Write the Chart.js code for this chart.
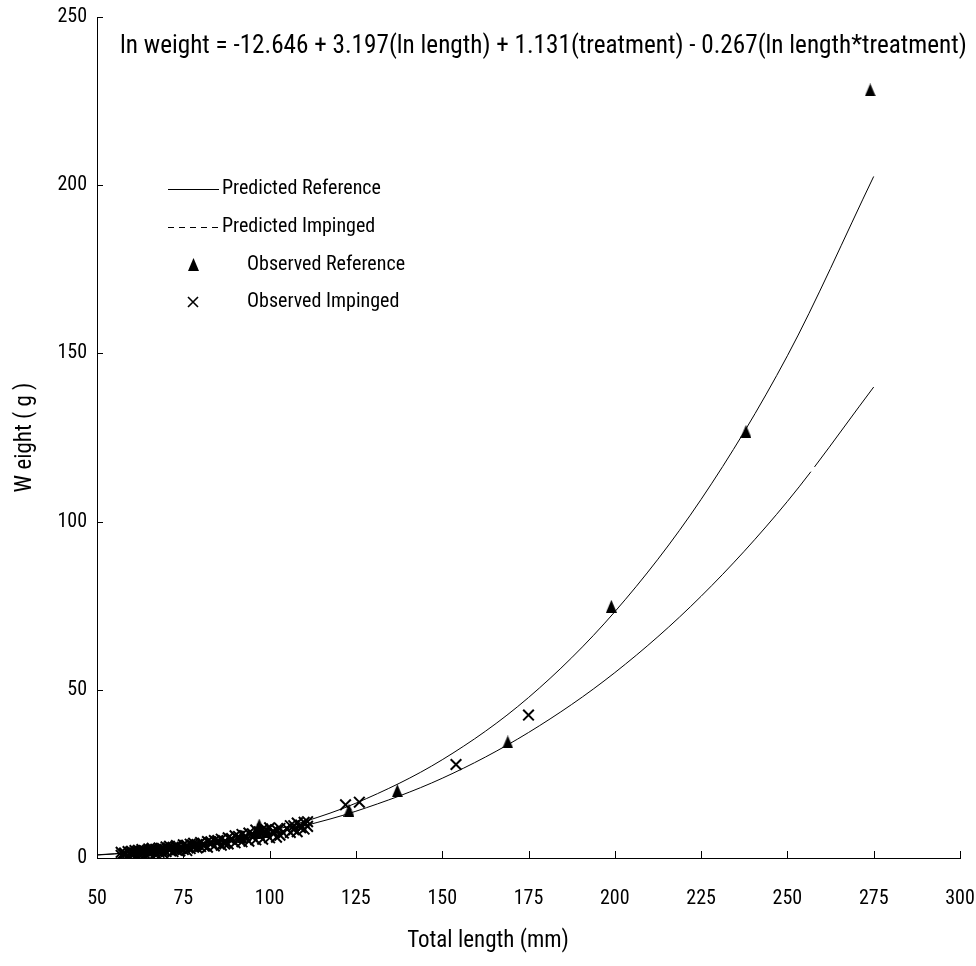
<!DOCTYPE html>
<html>
<head>
<meta charset="utf-8">
<style>
  html, body { margin: 0; padding: 0; background: #fff; }
  #wrap { width: 976px; height: 966px; }
</style>
<script src="https://cdn.jsdelivr.net/npm/chart.js@4/dist/chart.umd.min.js"></script>
</head>
<body>
<div id="wrap"><canvas id="lwChart" width="976" height="966"></canvas></div>
<script>
// values
const xTicks = [50, 75, 100, 125, 150, 175, 200, 225, 250, 275, 300];
const yTicks = [0, 50, 100, 150, 200, 250];

// predicted curves (mm, g)
const curveLength = [50, 60, 70, 80, 90, 100, 110, 125, 150, 175, 200, 225, 250, 275];
const predReference = [0.87, 1.56, 2.55, 3.91, 5.70, 7.98, 10.8, 16.3, 29.2, 47.7, 73.2, 106.6, 149.3, 202.6];
const predImpinged = [0.95, 1.62, 2.54, 3.76, 5.31, 7.23, 9.56, 13.9, 23.7, 37.3, 55.1, 77.8, 106.0, 140.0];

// observed reference fish
const refLength = [92, 96, 97, 99, 123, 137, 169, 199, 238, 274];
const refWeight = [6.5, 7.5, 9.8, 7.8, 14.2, 20.0, 34.5, 74.8, 126.8, 228.3];

// observed impinged fish
const impLength = [
  57, 57, 58, 59, 59, 60, 60, 61, 61, 62,
  62, 63, 63, 64, 64, 65, 65, 66, 66, 67,
  67, 68, 68, 69, 69, 70, 70, 71, 71, 72,
  72, 73, 73, 74, 74, 75, 75, 76, 76, 77,
  77, 78, 78, 79, 80, 80, 81, 82, 82, 83,
  84, 84, 85, 86, 86, 87, 88, 88, 89, 90,
  90, 91, 92, 92, 93, 94, 94, 95, 96, 96,
  97, 98, 98, 99, 100, 100, 101, 102, 103, 103,
  106, 106, 107, 108, 108, 109, 110, 110, 111, 111,
  58, 60, 62, 63, 65, 66, 68, 69, 71, 73,
  74, 76, 78, 79, 81, 83, 85, 87, 89, 91,
  93, 95, 97, 99, 101, 102, 104, 105, 107, 109,
  122, 126, 154, 175];
const impWeight = [
  0.8, 1.7, 1.2, 0.7, 1.9, 1.0, 2.0, 1.4, 2.2, 1.1,
  2.3, 1.4, 2.5, 1.1, 2.1, 2.7, 1.5, 1.9, 2.9, 1.4,
  2.6, 1.7, 3.0, 2.2, 1.5, 3.3, 1.9, 2.7, 3.5, 1.9,
  3.2, 2.4, 3.7, 2.1, 3.0, 3.9, 2.5, 3.4, 2.2, 4.1,
  2.8, 3.6, 4.4, 3.0, 4.6, 3.4, 4.0, 4.9, 3.2, 4.3,
  5.2, 3.6, 4.6, 5.6, 3.8, 4.9, 6.0, 4.2, 5.4, 6.6,
  4.5, 5.6, 7.0, 4.8, 6.0, 7.4, 5.0, 6.3, 8.3, 5.4,
  6.8, 8.6, 5.6, 7.2, 9.0, 6.0, 7.6, 8.4, 6.8, 8.8,
  7.6, 9.6, 8.4, 10.4, 7.8, 9.0, 10.6, 8.6, 9.4, 10.8,
  1.5, 1.6, 1.7, 1.9, 2.1, 2.4, 2.3, 2.8, 2.4, 3.2,
  2.9, 3.8, 3.2, 4.0, 3.6, 4.8, 5.2, 4.2, 5.8, 6.4,
  6.6, 7.2, 7.8, 8.4, 8.0, 6.2, 7.4, 8.8, 9.6, 9.8,
  15.8, 16.6, 27.8, 42.5];

const equation = 'ln weight = -12.646 + 3.197(ln length) + 1.131(treatment) - 0.267(ln length*treatment)';
const legendItems = ['Predicted Reference', 'Predicted Impinged', 'Observed Reference', 'Observed Impinged'];
const xTitle = 'Total length (mm)';
const yTitle = 'W eight ( g )';

// Roboto condensed stands in for the narrow font of the original
const FAMILY = 'Roboto';
const NARROW = 'condensed';

function pairs(xs, ys) {
  return xs.map((x, i) => ({ x: x, y: ys[i] }));
}

// tall filled triangle marker
function makeTriangle(w, h) {
  const c = document.createElement('canvas');
  c.width = w;
  c.height = h;
  const g = c.getContext('2d');
  g.fillStyle = '#000';
  g.beginPath();
  g.moveTo(w / 2, 0);
  g.lineTo(w, h);
  g.lineTo(0, h);
  g.closePath();
  g.fill();
  return c;
}
const triMark = makeTriangle(11, 13);

// inside tick marks, equation, x title and legend
const extras = {
  id: 'extras',
  afterDraw(chart) {
    const ctx = chart.ctx;
    const xs = chart.scales.x, ys = chart.scales.y;
    const area = chart.chartArea;
    ctx.save();
    ctx.strokeStyle = '#000';
    ctx.lineWidth = 1;
    ctx.beginPath();
    xTicks.forEach(v => {
      const px = Math.round(xs.getPixelForValue(v)) + 0.5;
      ctx.moveTo(px, area.bottom);
      ctx.lineTo(px, area.bottom - 7);
    });
    yTicks.forEach(v => {
      const py = Math.round(ys.getPixelForValue(v)) + 0.5;
      ctx.moveTo(area.left, py);
      ctx.lineTo(area.left + 6, py);
    });
    ctx.stroke();

    ctx.fillStyle = '#000';
    ctx.textBaseline = 'middle';
    ctx.textAlign = 'left';
    ctx.font = NARROW + ' 20px ' + FAMILY;
    const eqSize = 20 * 846 / ctx.measureText(equation).width;
    ctx.font = NARROW + ' ' + eqSize.toFixed(1) + 'px ' + FAMILY;
    ctx.fillText(equation, 120, 47);

    // x axis title sits centred on the page, not on the axis
    ctx.textAlign = 'center';
    ctx.font = NARROW + ' 23px ' + FAMILY;
    ctx.fillText(xTitle, chart.width / 2, 941);
    ctx.textAlign = 'left';

    // legend
    ctx.font = NARROW + ' 20px ' + FAMILY;
    const rows = [189, 227, 265, 302];
    ctx.beginPath();
    ctx.moveTo(168, rows[0] + 0.5);
    ctx.lineTo(219, rows[0] + 0.5);
    ctx.stroke();
    ctx.setLineDash([6, 5]);
    ctx.beginPath();
    ctx.moveTo(168, rows[1] + 0.5);
    ctx.lineTo(219, rows[1] + 0.5);
    ctx.stroke();
    ctx.setLineDash([]);
    ctx.drawImage(triMark, 188, rows[2] - 7);
    ctx.lineWidth = 1.6;
    ctx.beginPath();
    ctx.moveTo(188, rows[3] - 5);
    ctx.lineTo(198, rows[3] + 5);
    ctx.moveTo(198, rows[3] - 5);
    ctx.lineTo(188, rows[3] + 5);
    ctx.stroke();
    ctx.fillText(legendItems[0], 222, rows[0]);
    ctx.fillText(legendItems[1], 222, rows[1]);
    ctx.fillText(legendItems[2], 247, rows[2]);
    ctx.fillText(legendItems[3], 247, rows[3]);
    ctx.restore();
  }
};

const ctx = document.getElementById('lwChart').getContext('2d');
const lwChart = new Chart(ctx, {
  type: 'scatter',
  data: {
    datasets: [
      {
        label: 'Observed Reference',
        data: pairs(refLength, refWeight),
        pointStyle: triMark,
        pointRadius: 7,
        backgroundColor: '#000',
        borderColor: '#000',
        order: 1
      },
      {
        label: 'Observed Impinged',
        data: pairs(impLength, impWeight),
        pointStyle: 'crossRot',
        pointRadius: 7.5,
        borderColor: '#000',
        borderWidth: 2,
        order: 1
      },
      {
        label: 'Predicted Reference',
        data: pairs(curveLength, predReference),
        showLine: true,
        pointRadius: 0,
        borderColor: '#000',
        borderWidth: 1,
        cubicInterpolationMode: 'monotone',
        order: 2
      },
      {
        label: 'Predicted Impinged',
        data: pairs(curveLength, predImpinged),
        showLine: true,
        pointRadius: 0,
        borderColor: '#000',
        borderWidth: 1,
        borderDash: [840, 6],
        cubicInterpolationMode: 'monotone',
        order: 2
      }
    ]
  },
  options: {
    responsive: false,
    animation: false,
    layout: { padding: { top: 17, right: 16, left: 0, bottom: 0 } },
    plugins: {
      legend: { display: false },
      tooltip: { enabled: false }
    },
    scales: {
      x: {
        type: 'linear',
        min: 50,
        max: 300,
        afterBuildTicks: s => { s.ticks = xTicks.map(v => ({ value: v })); },
        afterFit: s => { s.height = 108; s.paddingLeft = 0; s.paddingRight = 0; },
        grid: { display: false, drawTicks: false },
        border: { display: true, color: '#000', width: 1 },
        ticks: { color: '#000', padding: 29, font: { family: FAMILY, weight: NARROW, size: 20 } },
        title: { display: false }
      },
      y: {
        min: 0,
        max: 250,
        afterBuildTicks: s => { s.ticks = yTicks.map(v => ({ value: v })); },
        afterFit: s => { s.width = 97; s.paddingTop = 0; s.paddingBottom = 0; },
        grid: { display: false, drawTicks: false },
        border: { display: true, color: '#000', width: 1 },
        ticks: { color: '#000', padding: 10, font: { family: FAMILY, weight: NARROW, size: 20 } },
        title: {
          display: true,
          text: yTitle,
          color: '#000',
          font: { family: FAMILY, weight: NARROW, size: 23 },
          padding: { top: 11, bottom: 0 }
        }
      }
    }
  },
  plugins: [extras]
});
</script>
</body>
</html>
